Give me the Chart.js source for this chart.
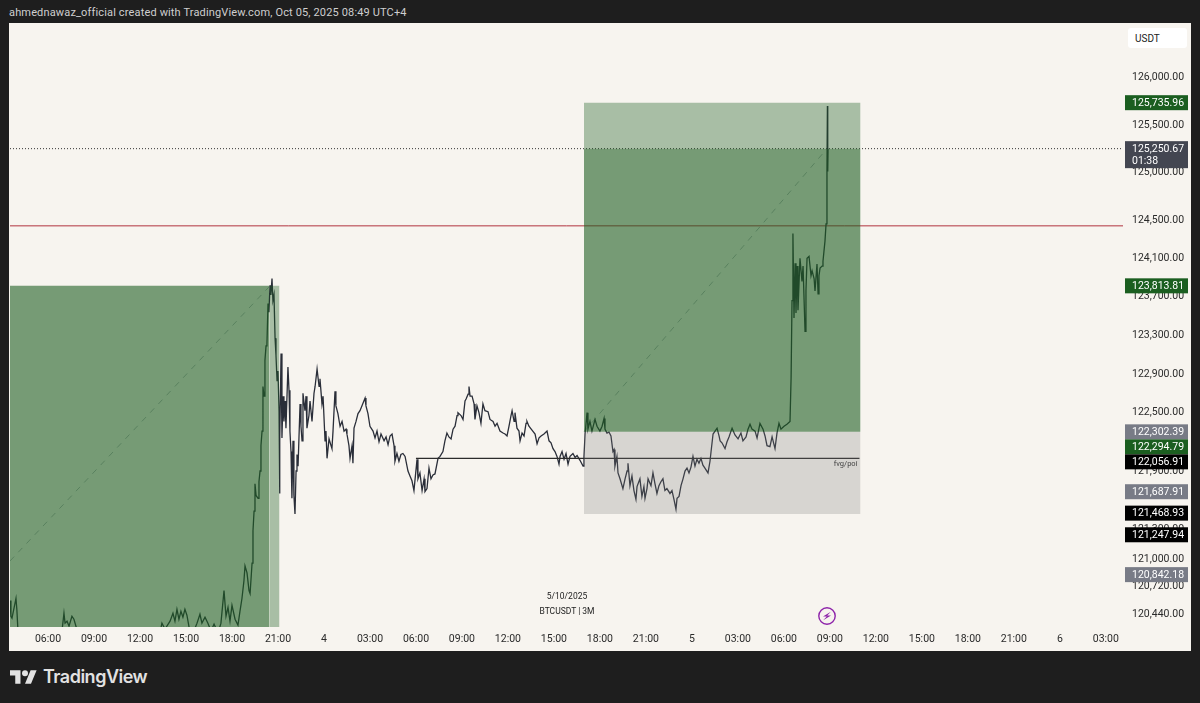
<!DOCTYPE html>
<html>
<head>
<meta charset="utf-8">
<title>BTCUSDT 3M</title>
<script src="https://cdn.jsdelivr.net/npm/chart.js@4"></script>
<style>
    html, body { margin: 0; padding: 0; width: 1200px; height: 703px; background: #1e1e1e; overflow: hidden; font-family: Roboto, sans-serif; }
    #grafikas { position: absolute; left: 9px; top: 23px; background: #f7f4ef; }
    .txt { position: absolute; white-space: nowrap; }
    #antraste { left: 9px; top: 6px; font-size: 11px; line-height: 14px; color: #cfcfcf; letter-spacing: 0.15px; }
    #usdt { left: 1128px; top: 28px; width: 59px; height: 20px; background: #fff; border-radius: 3px; font-size: 10px; line-height: 21px; color: #222; text-indent: 7px; }
    #data, #simbolis { left: 467px; width: 200px; text-align: center; font-size: 8.5px; line-height: 10px; color: #222; }
    #data { top: 591px; }
    #simbolis { top: 606px; }
    #logo { position: absolute; left: 10px; top: 670px; }
    #logotekstas { left: 43px; top: 665px; font-family: Inter, sans-serif; font-weight: 600; font-size: 18px; line-height: 24px; color: #e2e2e2; letter-spacing: -0.5px; }
    #zaibas { position: absolute; left: 818px; top: 607px; }
</style>
</head>
<body>
<div class="txt" id="antraste">ahmednawaz_official created with TradingView.com, Oct 05, 2025 08:49 UTC+4</div>
<canvas id="grafikas" width="1182" height="628"></canvas>
<div class="txt" id="usdt">USDT</div>
<div class="txt" id="data">5/10/2025</div>
<div class="txt" id="simbolis">BTCUSDT | 3M</div>
<svg id="zaibas" width="18" height="18" viewBox="0 0 18 18">
    <circle cx="9" cy="9" r="8.2" fill="none" stroke="#8e24aa" stroke-width="1.4"/>
    <path d="M12.8 4.8 L5 9.6 L8.8 9.6 L5.2 13.2 L13 8.4 L9.2 8.4 Z" fill="#8e24aa"/>
</svg>
<svg id="logo" width="27" height="14" viewBox="0 4 36 18" fill="#e2e2e2">
    <path d="M14 22H7V11H0V4h14v18zM28 22h-8l7.5-18h8L28 22z"/>
    <circle cx="20" cy="8" r="4"/>
</svg>
<div class="txt" id="logotekstas">TradingView</div>

<script>
// x values are hours counted from 3 Oct 00:00
const priceHours = [
    3.52,3.58,3.65,3.91,3.97,4.04,5.48,6.45,6.91,7.04,
    7.11,7.24,7.37,7.56,7.69,7.95,9.39,11.35,12.65,13.30,
    13.43,13.63,13.96,14.15,14.28,14.41,14.54,14.67,14.80,14.93,
    15.06,15.20,15.46,15.72,15.91,16.04,16.24,16.43,16.63,16.83,
    17.09,17.28,17.48,17.61,17.74,17.87,18.00,18.20,18.39,18.52,
    18.65,18.78,18.85,18.98,19.11,19.18,19.31,19.37,19.44,19.50,
    19.57,19.70,19.76,19.83,19.89,19.96,20.02,20.09,20.15,20.22,
    20.28,20.35,20.41,20.48,20.54,20.61,20.67,20.74,20.81,20.87,
    20.94,21.00,21.07,21.10,21.13,21.20,21.26,21.33,21.39,21.46,
    21.52,21.65,21.72,21.78,21.85,21.91,21.98,22.04,22.11,22.18,
    22.24,22.31,22.44,22.50,22.57,22.63,22.76,22.83,22.89,23.02,
    23.09,23.22,23.35,23.42,23.55,23.68,23.74,23.87,23.94,24.07,
    24.13,24.20,24.33,24.46,24.52,24.59,24.72,24.78,24.91,25.05,
    25.18,25.31,25.44,25.50,25.63,25.70,25.83,25.89,25.96,26.09,
    26.22,26.35,26.48,26.68,26.74,26.87,27.00,27.20,27.33,27.46,
    27.59,27.72,27.92,28.05,28.18,28.31,28.44,28.57,28.63,28.76,
    28.89,29.02,29.15,29.29,29.48,29.61,29.74,29.87,30.07,30.13,
    30.26,30.40,30.53,30.59,30.72,30.85,30.98,31.11,31.24,31.44,
    31.57,31.76,31.89,32.02,32.15,32.29,32.42,32.55,32.68,32.74,
    32.94,33.07,33.20,33.27,33.40,33.46,33.53,33.66,33.79,33.85,
    33.98,34.11,34.24,34.37,34.50,34.70,34.83,35.03,35.16,35.29,
    35.48,35.68,35.81,35.94,36.07,36.20,36.27,36.40,36.46,36.59,
    36.72,36.79,36.92,37.05,37.18,37.24,37.37,37.57,37.77,37.90,
    38.03,38.16,38.35,38.55,38.68,38.81,38.94,39.07,39.20,39.33,
    39.40,39.53,39.66,39.79,39.92,40.05,40.24,40.38,40.51,40.70,
    40.90,40.96,41.03,41.16,41.22,41.35,41.48,41.68,41.81,42.00,
    42.14,42.27,42.33,42.46,42.59,42.72,42.85,42.92,42.98,43.11,
    43.18,43.31,43.50,43.64,43.77,43.83,43.96,44.09,44.22,44.35,
    44.42,44.61,44.74,44.87,44.94,45.07,45.14,45.33,45.46,45.59,
    45.72,45.85,45.98,46.11,46.24,46.37,46.57,46.70,46.83,46.96,
    47.03,47.16,47.29,47.42,47.55,47.68,47.81,47.94,48.07,48.20,
    48.33,48.46,48.59,48.72,48.85,49.05,49.18,49.25,49.38,49.51,
    49.64,49.77,49.84,49.96,50.16,50.29,50.42,50.55,50.62,50.81,
    51.01,51.20,51.33,51.53,51.66,51.79,51.92,52.12,52.25,52.44,
    52.64,52.77,52.90,53.09,53.23,53.42,53.55,53.68,53.81,54.01,
    54.20,54.40,54.47,54.53,54.59,54.66,54.73,54.79,54.86,54.92,
    55.05,55.18,55.25,55.38,55.44,55.51,55.64,55.77,55.84,55.97,
    56.03,56.16,56.23,56.29,56.36,56.49,56.55,56.68,56.75,56.81,
    56.84,56.86,56.88
];
const prices = [
    120580,120420,120400,120600,120480,120270,120070,120200,120270,120450,
    120350,120370,120320,120420,120390,120250,120070,119970,120070,120250,
    120350,120290,120370,120450,120370,120490,120390,120470,120410,120490,
    120430,120310,120250,120350,120440,120350,120410,120350,120270,120340,
    120250,120350,120680,120420,120510,120370,120530,120390,120330,120470,
    120600,120780,120930,120860,120680,120650,120960,121290,121490,121770,
    121650,121620,121790,121900,122160,122310,122770,122670,123040,123190,
    123210,123630,123540,123820,123720,123890,123660,123720,123270,123090,
    122830,122930,122520,121670,122210,123110,122240,122670,122410,122620,
    122340,122970,122730,122310,122100,121620,122210,121650,121460,121900,
    122070,121950,122590,122360,122210,122700,122520,122670,122340,122470,
    122620,122410,122700,122770,122950,122770,122850,122590,122670,122210,
    122310,122030,122230,122160,122130,122310,122720,122570,122490,122360,
    122410,122310,122330,122280,122160,122030,122160,121980,122340,122410,
    122490,122520,122570,122650,122570,122490,122360,122310,122240,122310,
    122200,122280,122210,122250,122170,122260,122280,122160,122000,122080,
    122000,122070,122080,122050,121900,121850,121800,121700,122020,121820,
    121880,121700,121820,121690,121720,121930,121820,121860,121870,122030,
    122050,122100,122210,122290,122250,122230,122330,122360,122470,122500,
    122470,122430,122620,122640,122690,122770,122670,122670,122590,122430,
    122570,122500,122390,122590,122520,122510,122430,122410,122360,122390,
    122310,122290,122280,122260,122360,122470,122520,122410,122500,122340,
    122310,122210,122290,122260,122390,122410,122360,122320,122280,122180,
    122240,122260,122280,122310,122210,122190,122130,122100,122050,121970,
    122050,122100,122020,122080,121970,122050,122080,122040,122060,122010,
    121950,122050,122280,122500,122330,122410,122310,122430,122360,122310,
    122360,122440,122330,122290,122300,122260,122100,122120,121950,122050,
    121880,121820,121720,121820,121900,121980,121750,121850,121700,121610,
    121740,121820,121640,121740,121620,121720,121820,121750,121880,121770,
    121670,121750,121790,121820,121700,121720,121670,121700,121610,121510,
    121620,121640,121750,121820,121900,121930,121880,121940,122050,121950,
    122020,121980,122030,121960,121930,121880,122000,122100,122280,122310,
    122340,122260,122210,122190,122130,122200,122250,122310,122340,122270,
    122230,122290,122210,122250,122330,122380,122330,122310,122240,122390,
    122330,122260,122160,122150,122250,122130,122290,122390,122330,122360,
    122380,122410,122860,123660,124360,123480,124050,123530,124020,123560,
    124100,123860,124020,123340,123760,124100,124120,123920,123970,123890,
    123760,124040,123730,123920,124000,124020,124070,124280,124460,125010,
    125700,125010,125250.67
];

const timeTicks = [6,9,12,15,18,21,24,27,30,33,36,39,42,45,48,51,54,57,60,63,66,69,72,75];
const timeLabels = ['06:00','09:00','12:00','15:00','18:00','21:00','4','03:00','06:00','09:00','12:00','15:00','18:00','21:00','5','03:00','06:00','09:00','12:00','15:00','18:00','21:00','6','03:00'];
const priceTicks = [126000,125500,125000,124500,124100,123700,123300,122900,122500,121900,121680,121300,121000,120720,120440];

const tagPrices = [125735.96,125250.67,123813.81,122302.39,122294.79,122056.91,121687.91,121468.93,121247.94,120842.18];
const tagKinds = ['profit','last','profit','level','profit','stop','level','stop','stop','level'];
const countdown = '01:38';

const hourMin = 3.52;
const hourMax = 76.12;
const priceMin = 120311;
const priceMax = 126571;

const lastPrice = 125250.67;
const redLevel = 124440;
const fvgLevel = 122030;
const fvgHours = [30, 58.93];

const leftBoxHours = [0, 20.45, 21.1];
const leftBoxTop = 123813.81;
const leftBoxBottom = 119000;
const leftDiagonalHours = [3.52, 20.48];
const leftDiagonalPrices = [120981, 123813.81];

const rightBoxHours = [40.96, 59];
const rightBoxTop = 125735.96;
const rightBoxEntry = 122302.39;
const rightBoxStop = 121460;
const rightDiagonalHours = [40.96, 56.81];
const rightDiagonalPrices = [122302.39, 125250.67];

const tagColors = { profit: '#1b5e20', level: '#787b86', stop: '#000000', last: '#434651' };
const axisFont = { family: 'Roboto', size: 10.5 };

function fmt(v) {
    return v.toLocaleString('en-US', { minimumFractionDigits: 2, maximumFractionDigits: 2 });
}

function zone(x0, x1, top, bottom, color) {
    return {
        data: [{ x: x0, y: top }, { x: x1, y: top }],
        fill: { value: bottom },
        backgroundColor: color,
        borderWidth: 0,
        pointRadius: 0,
        order: 1
    };
}

function hline(x0, x1, y, color, width, dash, order) {
    return {
        data: [{ x: x0, y: y }, { x: x1, y: y }],
        borderColor: color,
        borderWidth: width,
        borderDash: dash,
        pointRadius: 0,
        fill: false,
        order: order
    };
}

function diagonal(hours, vals) {
    return {
        data: hours.map((h, i) => ({ x: h, y: vals[i] })),
        borderColor: 'rgba(120,123,134,0.55)',
        borderWidth: 1,
        borderDash: [6, 6],
        pointRadius: 0,
        fill: false,
        order: 6
    };
}

// price labels on the right, pushed down when they would overlap
const priceTags = {
    id: 'priceTags',
    afterDraw(chart) {
        const ctx = chart.ctx;
        const y = chart.scales.y;
        const left = chart.chartArea.right + 2;
        let prevBottom = -100;
        ctx.save();
        ctx.font = '10.5px Roboto';
        ctx.textBaseline = 'middle';
        ctx.textAlign = 'left';
        tagPrices.forEach((p, i) => {
            const kind = tagKinds[i];
            const h = kind === 'last' ? 27 : 15;
            const top = Math.max(y.getPixelForValue(p) - 7.5, prevBottom);
            ctx.fillStyle = tagColors[kind];
            ctx.fillRect(left, top, 63, h);
            ctx.fillStyle = '#ffffff';
            ctx.fillText(fmt(p), left + 7, top + 8);
            if (kind === 'last') {
                ctx.fillText(countdown, left + 7, top + 20);
            }
            prevBottom = top + h;
        });
        ctx.restore();
    }
};

// small name under the end of the fvg line
const fvgLabel = {
    id: 'fvgLabel',
    afterDatasetsDraw(chart) {
        const ctx = chart.ctx;
        ctx.save();
        ctx.font = '7.5px Roboto';
        ctx.fillStyle = '#444444';
        ctx.textAlign = 'right';
        ctx.textBaseline = 'middle';
        ctx.fillText('fvg/poi', chart.scales.x.getPixelForValue(fvgHours[1]) - 2, chart.scales.y.getPixelForValue(fvgLevel) + 6);
        ctx.restore();
    }
};

function noPadding(scale) {
    scale.paddingLeft = 0;
    scale.paddingRight = 0;
    scale.paddingTop = 0;
    scale.paddingBottom = 0;
}

const ctx = document.getElementById('grafikas').getContext('2d');
new Chart(ctx, {
    type: 'line',
    data: {
        datasets: [
            zone(leftBoxHours[0], leftBoxHours[1], leftBoxTop, leftBoxBottom, 'rgba(27,94,32,0.59)'),
            zone(leftBoxHours[1], leftBoxHours[2], leftBoxTop, leftBoxBottom, 'rgba(27,94,32,0.36)'),
            zone(rightBoxHours[0], rightBoxHours[1], rightBoxTop, lastPrice, 'rgba(27,94,32,0.36)'),
            zone(rightBoxHours[0], rightBoxHours[1], lastPrice, rightBoxEntry, 'rgba(27,94,32,0.59)'),
            zone(rightBoxHours[0], rightBoxHours[1], rightBoxEntry, rightBoxStop, 'rgba(120,120,120,0.25)'),
            {
                data: priceHours.map((h, i) => ({ x: h, y: prices[i] })),
                borderColor: '#2a2e39',
                borderWidth: 1.3,
                pointRadius: 0,
                tension: 0,
                fill: false,
                order: 5
            },
            diagonal(leftDiagonalHours, leftDiagonalPrices),
            diagonal(rightDiagonalHours, rightDiagonalPrices),
            hline(fvgHours[0], fvgHours[1], fvgLevel, '#2b2b2b', 1.2, [], 4),
            hline(hourMin, hourMax, redLevel, '#b2333f', 1, [], 7),
            hline(hourMin, hourMax, lastPrice, '#333333', 1, [1, 2], 7)
        ]
    },
    options: {
        responsive: false,
        animation: false,
        layout: { padding: { left: 1, top: 1, right: 0, bottom: 0 } },
        plugins: { legend: { display: false }, tooltip: { enabled: false }, title: { display: false } },
        scales: {
            x: {
                type: 'linear',
                min: hourMin,
                max: hourMax,
                grid: { display: false, drawTicks: false },
                border: { display: false },
                afterBuildTicks(scale) { scale.ticks = timeTicks.map(v => ({ value: v })); },
                afterFit(scale) { scale.height = 24; noPadding(scale); },
                ticks: {
                    autoSkip: false,
                    maxRotation: 0,
                    padding: 6,
                    color: '#2a2a2a',
                    font: axisFont,
                    callback: (value, index) => timeLabels[index]
                }
            },
            y: {
                type: 'logarithmic',
                position: 'right',
                min: priceMin,
                max: priceMax,
                bounds: 'data',
                grid: { display: false, drawTicks: false },
                border: { display: false },
                afterBuildTicks(scale) { scale.ticks = priceTicks.map(v => ({ value: v })); },
                afterFit(scale) { scale.width = 68; noPadding(scale); },
                ticks: {
                    autoSkip: false,
                    padding: 9,
                    color: '#2a2a2a',
                    font: axisFont,
                    callback: (value) => fmt(value)
                }
            }
        }
    },
    plugins: [fvgLabel, priceTags]
});
</script>
</body>
</html>
